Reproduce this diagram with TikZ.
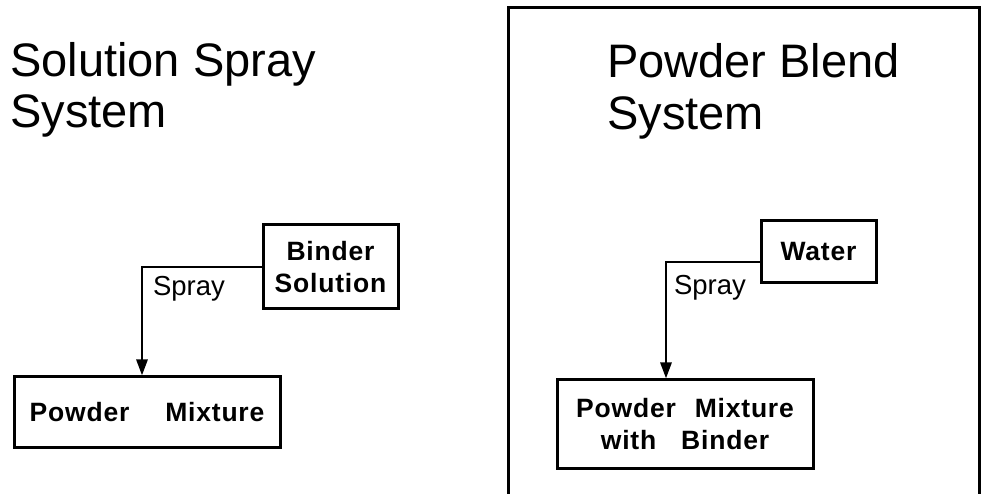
\documentclass[tikz,border=0pt]{standalone}
\usepackage{fontspec}
\setmainfont{Liberation Sans}
\usetikzlibrary{arrows.meta}
\tikzset{
  boxnode/.style={draw, line width=3pt, inner sep=0pt, align=center,
    font=\fontsize{26.5}{31.5}\selectfont\bfseries\addfontfeature{LetterSpace=3}},
  flow/.style={line width=2.8pt, -{Triangle[length=16pt,width=11pt]}},
  title/.style={anchor=base west, inner sep=0pt, font=\fontsize{47}{51}\selectfont},
  lbl/.style={inner sep=0pt, font=\fontsize{27.5}{30}\selectfont},
  frame/.style={line width=3pt}
}
\begin{document}
\begin{tikzpicture}[x=1pt,y=-1pt]
\useasboundingbox (0,0) rectangle (983,494);
% left titles
\node[title] (t1) at (10,77) {Solution Spray};
\node[title] (t2) at (10,128) {System};
% left boxes
\node[boxnode, minimum width=135pt, minimum height=84pt] (bs) at (330.5,267) {Binder\\Solution};
\node[boxnode, minimum width=266pt, minimum height=70pt] (pm) at (147,412) {Powder\hspace{36pt}Mixture};
\draw[flow] (bs.west) -| ([xshift=-5pt]pm.north);
\node[lbl] (s1) at (189,289) {Spray};
% right frame
\draw[frame] (508,498) -- (508,8) -- (979,8) -- (979,498);
\node[title] (t3) at (607,78) {Powder Blend};
\node[title] (t4) at (607,130) {System};
\node[boxnode, minimum width=115pt, minimum height=62pt] (wa) at (818.5,252) {Water};
\node[boxnode, minimum width=256pt, minimum height=88pt] (pmb) at (685,424) {Powder\hspace{19pt}Mixture\\with\hspace{25pt}Binder};
\draw[flow] ([yshift=-10pt]wa.west) -| ([xshift=-19pt]pmb.north);
\node[lbl] (s2) at (710,288) {Spray};
\end{tikzpicture}
\end{document}
